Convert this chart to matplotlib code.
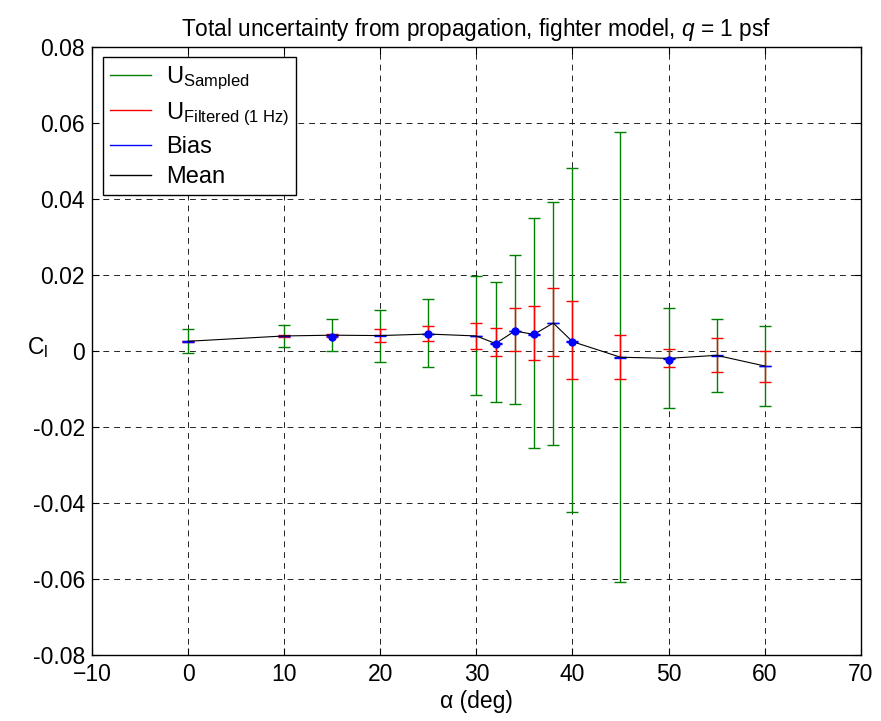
import numpy as np
import matplotlib
matplotlib.use('Agg')
import matplotlib.pyplot as plt
from matplotlib.lines import Line2D

plt.rcParams['font.family'] = ['Liberation Sans', 'DejaVu Sans']
plt.rcParams['mathtext.fontset'] = 'custom'
plt.rcParams['mathtext.rm'] = 'Liberation Sans'
plt.rcParams['mathtext.it'] = 'Liberation Sans:italic'

# angulo de ataque (deg)
alpha = [0, 10, 15, 20, 25, 30, 32, 34, 36, 38, 40, 45, 50, 55, 60]
# valor medio de Cl
mean = [0.0025, 0.0039, 0.0041, 0.0040, 0.0044, 0.0039, 0.0019, 0.0052,
        0.0043, 0.0073, 0.0024, -0.0017, -0.0020, -0.0012, -0.0040]
# limites de U muestreado (verde)
samp_hi = [0.0056, 0.0068, 0.0083, 0.0107, 0.0135, 0.0196, 0.0182, 0.0252,
           0.0350, 0.0392, 0.0482, 0.0575, 0.0112, 0.0083, 0.0065]
samp_lo = [-0.0005, 0.0009, 0.0000, -0.0029, -0.0043, -0.0117, -0.0136, -0.0141,
           -0.0257, -0.0248, -0.0425, -0.0609, -0.0150, -0.0108, -0.0145]
# limites de U filtrado (rojo)
filt_hi = [0.0027, 0.0041, 0.0045, 0.0056, 0.0066, 0.0074, 0.0061, 0.0112,
           0.0117, 0.0164, 0.0131, 0.0042, 0.0004, 0.0033, 0.0000]
filt_lo = [0.0023, 0.0037, 0.0035, 0.0023, 0.0027, 0.0004, -0.0015, -0.0001,
           -0.0024, -0.0015, -0.0075, -0.0075, -0.0042, -0.0057, -0.0081]
# sesgo (azul)
bias = [0.0001, 0.0001, 0.0001, 0.0001, 0.0001, 0.0001, 0.0001, 0.0001,
        0.0001, 0.0001, 0.0001, 0.0001, 0.0001, 0.0001, 0.0001]
# puntos marcados con circulo azul
dot = [False, False, True, False, True, False, True, True,
       True, False, True, False, True, False, False]
dot_val = [0.0025, 0.0039, 0.0037, 0.0040, 0.0044, 0.0039, 0.0019, 0.0052,
           0.0043, 0.0073, 0.0024, -0.0017, -0.0023, -0.0012, -0.0040]

labels = ['U$_{\\mathrm{Sampled}}$', 'U$_{\\mathrm{Filtered\\ (1\\ Hz)}}$',
          'Bias', 'Mean']

alpha = np.array(alpha)
mean = np.array(mean)

fig = plt.figure(figsize=(8.81, 7.21), dpi=100)
ax = fig.add_axes([0.1044, 0.092, 0.8726, 0.843])

green = (0, 0.5, 0)
ax.errorbar(alpha, mean, yerr=[mean - np.array(samp_lo), np.array(samp_hi) - mean],
            fmt='none', ecolor=green, elinewidth=1, capsize=4, capthick=1)
ax.errorbar(alpha, mean, yerr=[mean - np.array(filt_lo), np.array(filt_hi) - mean],
            fmt='none', ecolor='red', elinewidth=1, capsize=4, capthick=1)
ax.errorbar(alpha, mean, yerr=bias, fmt='none', ecolor='blue', elinewidth=1,
            capsize=4, capthick=1)
ax.plot(alpha, mean, color='black', lw=0.8)
sel = np.array(dot)
ax.plot(alpha[sel], np.array(dot_val)[sel], 'o', color='blue', ms=5)

ax.set_xlim(-10, 70)
ax.set_ylim(-0.08, 0.08)
ax.set_xticks(range(-10, 71, 10))
ax.set_yticks(np.arange(-0.08, 0.081, 0.02))
ax.set_yticklabels(['-0.08', '-0.06', '-0.04', '-0.02', '0',
                    '0.02', '0.04', '0.06', '0.08'])
ax.tick_params(direction='in', top=True, right=True, labelsize=16.5, length=5)
ax.tick_params(axis='x', pad=6)
ax.tick_params(axis='y', pad=5)
ax.grid(True, color='black', linestyle=(0, (7, 6)), linewidth=0.6)
for s in ax.spines.values():
    s.set_linewidth(1)

ax.set_title('Total uncertainty from propagation, fighter model, $q$ = 1 psf',
             fontsize=16.3, pad=8)
ax.set_xlabel('α (deg)', fontsize=16.5, labelpad=3)
ax.set_ylabel('C$_{\\mathrm{l}}$', fontsize=16.5, rotation=0, va='center', ha='center')
ax.yaxis.set_label_coords(-0.071, 0.505)

handles = [Line2D([], [], color=green, lw=1), Line2D([], [], color='red', lw=1),
           Line2D([], [], color='blue', lw=1), Line2D([], [], color='black', lw=1)]
leg = ax.legend(handles, labels, loc='upper left', fontsize=17, fancybox=False,
                framealpha=1, edgecolor='black', handlelength=1.75,
                handletextpad=0.65, borderaxespad=0.45, labelspacing=0.35,
                borderpad=0.3)
leg.get_frame().set_linewidth(1)

plt.savefig('out.png', dpi=100)
